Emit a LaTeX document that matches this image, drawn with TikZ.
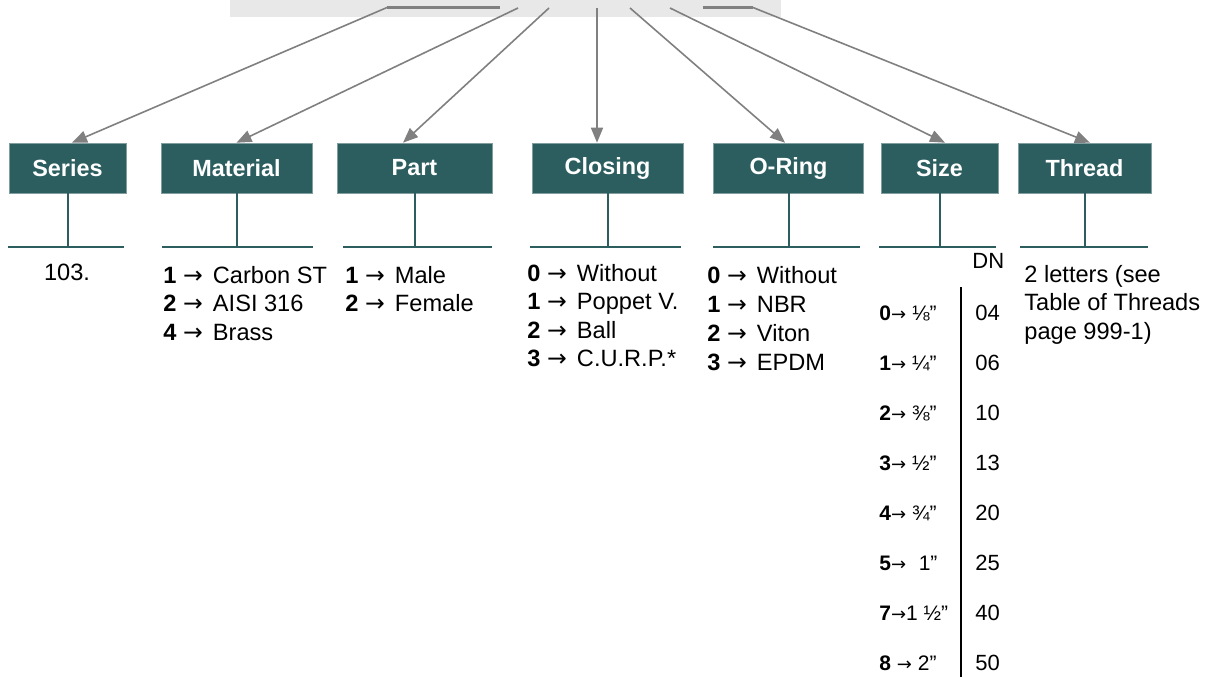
\documentclass[tikz,border=0pt]{standalone}
\usepackage{fontspec}
\setmainfont{Liberation Sans}
\newfontfamily\arrowfont{DejaVu Sans}
\newcommand\goesto{{\arrowfont →}\hspace{0.15em}}
\newcommand\smallgoesto{{\arrowfont\fontsize{9}{10}\selectfont →}}
\usetikzlibrary{arrows.meta, positioning}
\definecolor{boxteal}{RGB}{44,94,96}
\definecolor{arrowgrey}{RGB}{128,128,128}
\definecolor{bargrey}{RGB}{232,232,232}
\tikzstyle{codebox} = [rectangle, text centered, draw=boxteal!60!white, line width=0.3pt, fill=boxteal, text=white, font=\fontsize{11.7}{14}\selectfont\bfseries, minimum height=25pt, inner sep=0pt]
\tikzstyle{pickline} = [line width=0.8pt, arrowgrey, -{Triangle[length=7.5pt, width=6pt]}]
\tikzstyle{stemline} = [line width=1pt, boxteal]
\tikzstyle{listitem} = [anchor=base west, inner sep=0pt, font=\fontsize{11.8}{14}\selectfont]
\tikzstyle{sizekey} = [anchor=base west, inner sep=0pt, font=\fontsize{10.5}{12}\selectfont]
\tikzstyle{dnnum} = [anchor=base west, inner sep=0pt, font=\fontsize{11}{13}\selectfont]

\begin{document}
\begin{tikzpicture}[x=0.5pt, y=-0.5pt]

    \useasboundingbox (0,0) rectangle (1213,677);

    % grey header bar with the code segments
    \fill [bargrey] (230,0) rectangle (781,17);
    \coordinate (top1) at (387,7.5);
    \coordinate (seg1) at (500,7.5);
    \coordinate (top2) at (518,8);
    \coordinate (top3) at (549,8);
    \coordinate (top4) at (597,8);
    \coordinate (top5) at (630,8);
    \coordinate (top6) at (670,8);
    \coordinate (seg2) at (703,7.5);
    \coordinate (top7) at (753,7.5);
    \draw [line width=1.5pt, arrowgrey] (top1) -- (seg1);
    \draw [line width=1.5pt, arrowgrey] (seg2) -- (top7);

    % field boxes
    \node (series) [codebox, minimum width=58.5pt] at (67.5,168) {Series};
    \node (material) [codebox, minimum width=75.5pt] at (236.5,168) {Material};
    \node (part) [codebox, minimum width=77.5pt] at (414.5,168) {Part};
    \node (closing) [codebox, minimum width=75.5pt] at (607.5,168) {Closing};
    \node (oring) [codebox, minimum width=75pt] at (788.5,168) {O-Ring};
    \node (size) [codebox, minimum width=58.5pt] at (939.5,168) {Size};
    \node (thread) [codebox, minimum width=66.5pt] at (1084.5,168) {Thread};

    \draw [pickline] (top1) -- ([xshift=2.25pt]series.north);
    \draw [pickline] (top2) -- (material.north);
    \draw [pickline] (top3) -- ([xshift=-5.75pt]part.north);
    \draw [pickline] (top4) -- ([xshift=-5.25pt]closing.north);
    \draw [pickline] (top5) -- ([xshift=-1.75pt]oring.north);
    \draw [pickline] (top6) -- ([xshift=2.75pt]size.north);
    \draw [pickline] (top7) -- ([xshift=2.75pt]thread.north);

    % stems and rules under the boxes
    \coordinate (rule) at (0,247);
    \foreach \fld/\l/\r in {series/8/124, material/162/313, part/343/492,
                            closing/530/681, oring/713/860, size/879/996, thread/1020/1148} {
        \draw [stemline] (\fld.south) -- (\fld.south |- rule);
        \draw [stemline] (\l,247) -- (\r,247);
    }

    % option lists
    \node (series0) [listitem, anchor=base] at (67,280) {103.};
    \foreach \k/\txt [count=\i from 0] in {1/Carbon ST, 2/AISI 316, 4/Brass}
        \node (material\i) [listitem] at (163, 283+28.5*\i) {\textbf{\k} \goesto{} \txt};
    \foreach \k/\txt [count=\i from 0] in {1/Male, 2/Female}
        \node (part\i) [listitem] at (345, 283+28.5*\i) {\textbf{\k} \goesto{} \txt};
    \foreach \k/\txt [count=\i from 0] in {0/Without, 1/Poppet V., 2/Ball, 3/C.U.R.P.*}
        \node (closing\i) [listitem] at (527, 281+28.5*\i) {\textbf{\k} \goesto{} \txt};
    \foreach \k/\txt [count=\i from 0] in {0/Without, 1/NBR, 2/Viton, 3/EPDM}
        \node (oring\i) [listitem] at (707, 283+29*\i) {\textbf{\k} \goesto{} \txt};
    \foreach \txt [count=\i from 0] in {2 letters (see, Table of Threads, page 999-1)}
        \node (thread\i) [listitem] at (1024, 282+28.5*\i) {\txt};

    % size table
    \node (dn) [dnnum] at (972,268) {DN};
    \coordinate (dntop) at (961,287);
    \coordinate (dnbot) at (961,677);
    \draw [line width=1pt] (dntop) -- (dnbot);
    \foreach \key/\dn [count=\i from 0] in {\textbf{0}\smallgoesto{} ⅛”/04, \textbf{1}\smallgoesto{} ¼”/06,
            \textbf{2}\smallgoesto{} ⅜”/10, \textbf{3}\smallgoesto{} ½”/13, \textbf{4}\smallgoesto{} ¾”/20,
            \textbf{5}\smallgoesto\hspace{0.6em}1”/25, \textbf{7}\smallgoesto 1 ½”/40, \textbf{8} \smallgoesto{} 2”/50} {
        \node (size\i) [sizekey] at (879, 320.5+50*\i) {\key};
        \node (dn\i) [dnnum] at (975, 320.5+50*\i) {\dn};
    }

\end{tikzpicture}
\end{document}
